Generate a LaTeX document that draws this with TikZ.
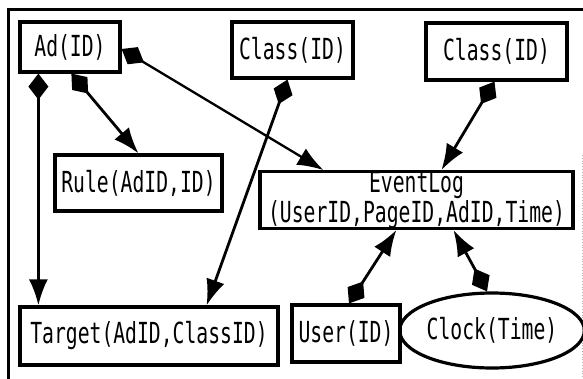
\documentclass[tikz,border=0pt]{standalone}
\usepackage{fontspec}
\newfontfamily\gul[FakeStretch=0.68]{DejaVu Sans Mono}
\usetikzlibrary{arrows.meta,shapes.geometric}
\begin{document}
\begin{tikzpicture}[x=1pt,y=-1pt,
  ent/.style={draw, line width=3.2pt, rectangle, inner sep=0pt,
    font=\gul\fontsize{29}{25}\selectfont, align=center},
  rel/.style={line width=2.8pt, {Diamond[length=26pt,width=20pt]}-{Latex[length=26pt,width=19pt]}},
]
\useasboundingbox (0,0) rectangle (583,379);
\draw[line width=3.5pt] (8.5,379) -- (8.5,9.5) -- (583,9.5);
\draw[gray!60, line width=0.8pt, dotted] (582,155) -- (582,379);

\node[ent, minimum width=100pt, minimum height=50pt] (ad) at (70,47) {Ad(ID)};
\node[ent, minimum width=121pt, minimum height=56pt] (classA) at (292.5,50) {Class(ID)};
\node[ent, minimum width=141pt, minimum height=57pt] (classB) at (496.5,51.5) {Class(ID)};
\node[ent, minimum width=167pt, minimum height=56pt] (rule) at (138.5,183) {Rule(AdID,ID)};
\node[ent, minimum width=313pt, minimum height=56pt] (ev) at (416.5,200) {EventLog\\(UserID,PageID,AdID,Time)};
\node[ent, minimum width=258pt, minimum height=58pt] (target) at (149,336) {Target(AdID,ClassID)};
\node[ent, minimum width=108pt, minimum height=57pt] (user) at (346,333.5) {User(ID)};
\node[ent, ellipse, minimum width=155pt, minimum height=75pt] (clock) at (492,330.5) {Clock(Time)};

\draw[rel] ([xshift=20pt]ad.south west) -- ([xshift=20pt]target.north west);
\draw[rel] ([xshift=53pt]ad.south west) -- (rule.north);
\draw[rel, line width=2.3pt] ([yshift=-2pt]ad.east) -- ([xshift=65pt]ev.north west);
\draw[rel] ([xshift=-5pt]classA.south) -- ([xshift=-73pt]target.north east);
\draw[rel] ([xshift=-2pt]classB.south) -- ([xshift=183pt]ev.north west);
\draw[rel] ([xshift=3pt]user.north) -- ([xshift=138pt]ev.south west);
\draw[rel] ([xshift=-5pt]clock.north) -- ([xshift=195pt]ev.south west);
\end{tikzpicture}
\end{document}
